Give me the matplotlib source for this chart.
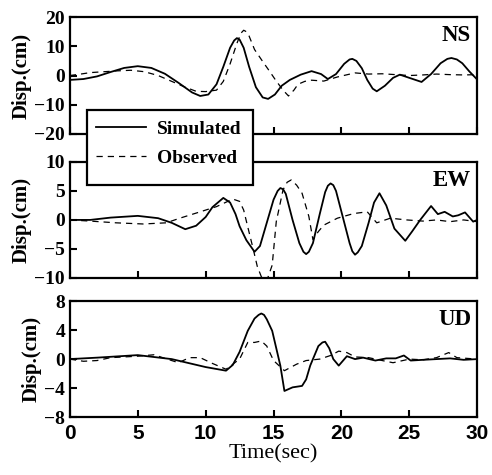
import numpy as np
import matplotlib
matplotlib.use('Agg')
import matplotlib.pyplot as plt
from matplotlib.patches import Rectangle

# (time [s], displacement [cm])
ns_sim_t = [0, 1, 2, 3, 4, 5, 6, 7, 8, 9, 9.6, 10.2, 10.8, 11.3, 11.8, 12.1, 12.3, 12.5, 12.8, 13.2, 13.7,
            14.2, 14.6, 15.1, 15.6, 16.2, 17, 17.8, 18.5, 19, 19.6, 20.2, 20.6, 20.8, 21.1, 21.5, 21.9,
            22.3, 22.6, 23.2, 23.8, 24.3, 25, 25.9, 26.6, 27.3, 27.8, 28.1, 28.5, 28.9, 29.4, 30]
ns_sim = [-1.5, -1.2, -0.3, 1.2, 2.6, 3.2, 2.6, 0.6, -2.5, -5.8, -7, -6.5, -3, 3, 9.5, 12, 12.8, 12.3, 9.5, 3, -4,
          -7.5, -8, -6.5, -3.5, -1.5, 0.3, 1.5, 0.5, -1.2, 0.5, 4, 5.5, 5.7, 5, 2.5, -1.5,
          -4.5, -5.4, -3.5, -0.8, 0.3, -0.8, -2.2, 0.5, 4.2, 5.7, 6, 5.5, 4.2, 1.5, -1.4]
ns_obs_t = [0, 0.8, 1.5, 2.5, 3.5, 4.5, 5.5, 6.5, 7.5, 8.5, 9.3, 10, 10.8, 11.3, 11.8, 12.3, 12.6, 12.8, 13.0,
            13.2, 13.6, 14.2, 14.7, 15.2, 15.7, 16.1, 16.5, 16.8, 17.3, 17.8, 18.7, 19.7, 21, 22, 23, 24,
            25, 26, 27, 28, 29, 30]
ns_obs = [0, 0.5, 1, 1.3, 1.6, 1.8, 1.3, 0, -2, -4, -5.4, -5.5, -5, -2, 4, 11, 14.5, 15.5, 15,
          13.5, 8.9, 4.8, 1.5, -1.9, -5, -7, -5, -3, -2, -1.6, -1.9, -0.5, 0.9, 0.5, 0.6, 0.3,
          0, 0.2, 0.5, 0.3, 0.2, 0.3]

ew_sim_t = [0, 1.5, 3, 5, 6.5, 7.5, 8.5, 9.3, 10, 10.5, 11.3, 11.8, 12.2, 12.5, 13, 13.6, 14, 14.5, 15,
            15.3, 15.5, 15.7, 15.9, 16.4, 16.9, 17.2, 17.4, 17.6, 17.9, 18.4, 18.8, 19.0, 19.2, 19.4,
            19.6, 20.1, 20.6, 20.8, 21, 21.2, 21.5, 22, 22.4, 22.8, 23.3, 23.9, 24.7, 25.2, 25.8, 26.6,
            27.1, 27.6, 28.2, 28.6, 29.1, 29.7, 30]
ew_sim = [0, 0, 0.4, 0.7, 0.3, -0.5, -1.6, -1, 0.5, 2.2, 3.8, 3, 1, -1.1, -3.5, -5.5, -4.5, -0.5, 3.5,
          5.0, 5.5, 5.3, 4.5, 0, -4, -5.5, -5.9, -5.5, -4, 1, 4.8, 5.9, 6.3, 6.0,
          5, 0.5, -4, -5.4, -6, -5.6, -4.5, -0.5, 3, 4.6, 2.5, -1.5, -3.6, -2, 0, 2.4,
          1, 1.4, 0.6, 0.8, 1.3, -0.3, 0]
ew_obs_t = [0, 1.5, 3.4, 5.4, 7.1, 8.1, 9.6, 10.8, 12, 12.5, 12.8, 13.1, 13.5, 13.8, 14.1, 14.5, 14.9,
            15.2, 15.7, 16.0, 16.3, 16.7, 17.1, 17.6, 17.9, 18.3, 18.7, 19.7, 20.9, 21.9, 22.6, 23.6,
            24.8, 26, 27, 28, 29, 30]
ew_obs = [0, -0.2, -0.5, -0.7, -0.5, 0.3, 1.4, 2.3, 3.6, 3.2, 1.7, -1.2, -5, -8, -9.8, -10.5, -7.8,
          -0.3, 5.2, 6.5, 6.9, 6, 4.6, 0.6, -3.4, -2, -0.9, 0.3, 1.1, 1.4, -0.5, 0.3,
          0, -0.2, 0, -0.3, 0, -0.3]

ud_sim_t = [0, 2, 5, 7.5, 10, 11.5, 12, 12.5, 13.1, 13.6, 13.9, 14.1, 14.3, 14.5, 14.9, 15.2, 15.5, 15.8,
            16.4, 17.1, 17.4, 17.7, 18.3, 18.6, 18.8, 19.1, 19.4, 19.8, 20.4, 21, 21.6, 22.5, 23.3, 24,
            24.6, 25.1, 26, 27, 28, 29, 30]
ud_sim = [0, 0.2, 0.55, 0, -1.1, -1.6, -0.8, 1, 3.9, 5.6, 6.1, 6.3, 6.1, 5.5, 3.9, 1.5, -0.9, -4.4,
          -3.9, -3.7, -2.8, -0.9, 1.8, 2.3, 2.4, 1.5, 0, -0.9, 0.4, 0, 0.2, -0.2, 0.1, 0.1,
          0.5, -0.2, -0.1, 0, 0.1, -0.1, 0]
ud_obs_t = [0, 1, 2, 3, 4, 5, 6.2, 7, 8, 8.8, 9.6, 10.5, 11.5, 12.5, 13.1, 13.6, 14.1, 14.5, 15, 15.8,
            16.7, 17.4, 18.4, 19.2, 19.8, 20.4, 21, 22, 23, 23.8, 25, 26, 27, 27.9, 28.5, 30]
ud_obs = [0, -0.3, -0.2, 0.2, 0.3, 0.4, 0.6, 0.1, -0.5, 0.2, 0.2, -0.6, -1.4, 0, 2.3, 2.3, 2.5, 1.8,
          -0.2, -1.6, -0.7, -0.2, 0, 0.5, 1.1, 0.9, 0.3, 0.2, -0.2, -0.5, 0, -0.1, 0.2, 0.9, 0.2, 0]

components = ['NS', 'EW', 'UD']
ylims = [20, 10, 8]
yticks = [[20, 10, 0, -10, -20], [10, 5, 0, -5, -10], [8, 4, 0, -4, -8]]
xticks = [0, 5, 10, 15, 20, 25, 30]

sims = [(ns_sim_t, ns_sim), (ew_sim_t, ew_sim), (ud_sim_t, ud_sim)]
obss = [(ns_obs_t, ns_obs), (ew_obs_t, ew_obs), (ud_obs_t, ud_obs)]

serif = ['Liberation Serif', 'DejaVu Serif']
narrow = ['Liberation Sans Narrow', 'Liberation Sans', 'DejaVu Sans']

fig = plt.figure(figsize=(4.92, 4.75), dpi=100)
# axes boxes [left, bottom, width, height] in figure fractions
boxes = [[0.142, 0.718, 0.828, 0.246],
         [0.142, 0.415, 0.828, 0.244],
         [0.142, 0.122, 0.828, 0.244]]

for i, comp in enumerate(components):
    ax = fig.add_axes(boxes[i])
    ax.plot(sims[i][0], sims[i][1], color='black', lw=1.3, label='Simulated')
    ax.plot(obss[i][0], obss[i][1], color='black', lw=0.9, dashes=(5, 4), label='Observed')
    ax.set_xlim(0, 30)
    ax.set_ylim(-ylims[i], ylims[i])
    ax.set_yticks(yticks[i])
    ax.set_xticks(xticks)
    ax.tick_params(direction='in', length=5, width=1.5, right=False, top=False)
    ax.tick_params(axis='x', pad=5)
    for sp in ax.spines.values():
        sp.set_linewidth(1.6)
    for lab in ax.get_yticklabels():
        lab.set_fontfamily(serif)
        lab.set_fontweight('bold')
        lab.set_fontsize(14)
    ax.set_ylabel('Disp.(cm)', fontsize=15, fontweight='bold', family=serif, labelpad=2)
    ax.text(0.985, 0.93, comp, transform=ax.transAxes, ha='right', va='top',
            fontsize=16.5, fontweight='bold', family=serif)
    if i < 2:
        ax.set_xticklabels([])
    else:
        for lab in ax.get_xticklabels():
            lab.set_fontfamily(narrow)
            lab.set_fontweight('bold')
            lab.set_fontsize(15)
        ax.set_xlabel('Time(sec)', fontsize=16, family=serif, labelpad=1)
    if i == 0:
        handles, labels = ax.get_legend_handles_labels()

# legend box: white frame drawn over both upper panels
W, H = 492.0, 475.0
fig.patches.append(Rectangle((87 / W, 1 - 185 / H), (253 - 87) / W, (185 - 110) / H,
                             transform=fig.transFigure, facecolor='white', edgecolor='black',
                             linewidth=1.6, zorder=4))
leg = fig.legend(handles, labels, loc='upper left', bbox_to_anchor=(92 / W, 1 - 116 / H),
                 frameon=False, prop={'family': serif, 'weight': 'bold', 'size': 14},
                 handlelength=2.6, handletextpad=0.55, borderpad=0.2, labelspacing=0.6,
                 borderaxespad=0)
leg.set_zorder(5)

fig.savefig('out.png', dpi=100)
